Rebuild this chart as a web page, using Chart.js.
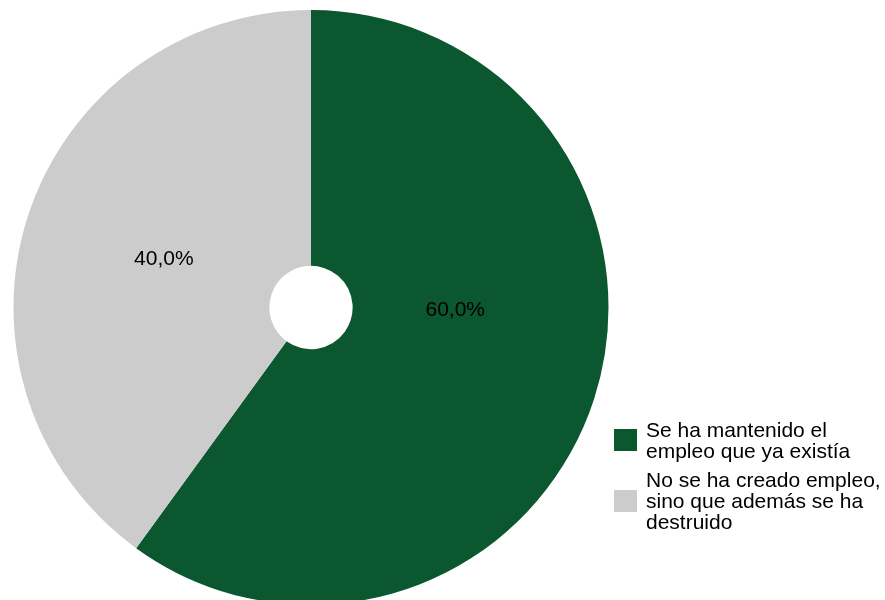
<!DOCTYPE html>
<html>
<head>
<meta charset="utf-8">
<script src="https://cdn.jsdelivr.net/npm/chart.js@4/dist/chart.umd.min.js"></script>
<style>
  html, body { margin: 0; padding: 0; background: #fff; overflow: hidden; width: 885px; height: 600px; }
  #wrap { position: absolute; left: 0; top: 0; width: 622px; height: 615px; }
  #legend { position: absolute; left: 614px; top: 419px; font-family: "Liberation Sans", Arial, sans-serif; font-size: 21px; line-height: 21px; color: #000; }
  .item { display: flex; align-items: center; margin-bottom: 8px; }
  .box { width: 23px; height: 22px; margin-right: 9px; flex: none; }
</style>
</head>
<body>
<div id="wrap"><canvas id="chartCanvas"></canvas></div>
<div id="legend"></div>
<script>
const categories = [
  ['Se ha mantenido el', 'empleo que ya existía'],
  ['No se ha creado empleo,', 'sino que además se ha', 'destruido']
];
const values = [60.0, 40.0];
const colors = ['#0b572f', '#cccccc'];
// small tweaks so labels sit where the original placed them
const labelShift = [-17, 0];
const labelRadius = [0.485, 0.52];

const legend = document.getElementById('legend');
categories.forEach((lines, i) => {
  legend.innerHTML += `<div class="item"><div class="box" style="background:${colors[i]}"></div><div>${lines.join('<br>')}</div></div>`;
});

const sliceLabels = {
  id: 'sliceLabels',
  afterDatasetsDraw(chart) {
    const ctx = chart.ctx;
    const meta = chart.getDatasetMeta(0);
    ctx.save();
    ctx.font = '21px "Liberation Sans", Arial, sans-serif';
    ctx.fillStyle = '#000';
    ctx.textAlign = 'center';
    ctx.textBaseline = 'middle';
    meta.data.forEach((arc, i) => {
      const p = arc.getProps(['x', 'y', 'startAngle', 'endAngle', 'outerRadius'], true);
      const a = (p.startAngle + p.endAngle) / 2 + labelShift[i] * Math.PI / 180;
      const r = p.outerRadius * labelRadius[i];
      const txt = values[i].toFixed(1).replace('.', ',') + '%';
      ctx.fillText(txt, p.x + Math.cos(a) * r, p.y + Math.sin(a) * r);
    });
    ctx.restore();
  }
};

const ctx = document.getElementById('chartCanvas').getContext('2d');
const chart = new Chart(ctx, {
  type: 'doughnut',
  data: {
    labels: categories.map(c => c.join(' ')),
    datasets: [{
      data: values,
      backgroundColor: colors,
      borderWidth: 0
    }]
  },
  options: {
    responsive: true,
    maintainAspectRatio: false,
    animation: false,
    cutout: '14%',
    layout: { padding: 10 },
    plugins: {
      legend: { display: false },
      tooltip: { enabled: false }
    }
  },
  plugins: [sliceLabels]
});
</script>
</body>
</html>
